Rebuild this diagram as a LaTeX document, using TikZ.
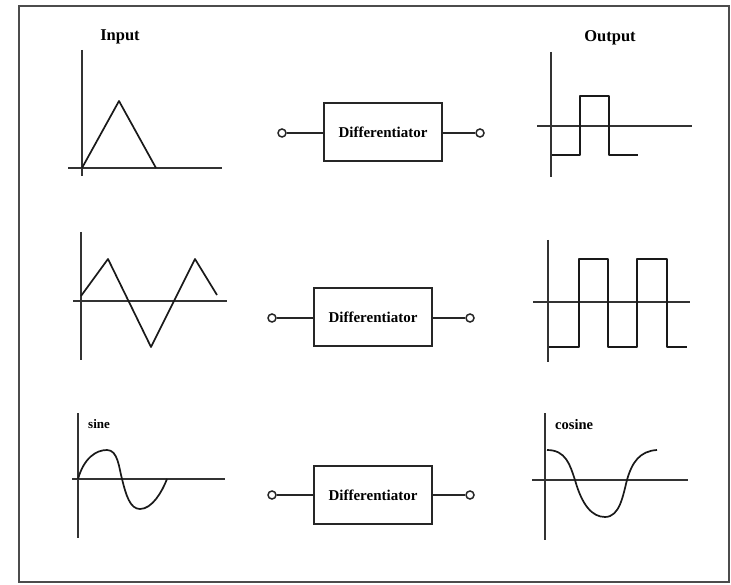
\documentclass[tikz,border=0pt]{standalone}
\usepackage{fontspec}
\setmainfont{Liberation Serif}
\begin{document}
\begin{tikzpicture}[x=1pt,y=-1pt,
  ink/.style={line width=1.5pt,draw=black!85},
  axis/.style={line width=1.3pt,draw=black!80},
  sig/.style={line width=1.7pt,draw=black!90,line join=round},
  blk/.style={draw=black!85,line width=1.4pt,minimum width=118pt,minimum height=58pt,inner sep=0pt,font=\fontsize{15}{15}\selectfont\bfseries},
  term/.style={circle,draw=black!85,line width=1.5pt,minimum size=8pt,inner sep=0pt,fill=white},
  lab/.style={font=\fontsize{16.5}{16.5}\selectfont\bfseries,inner sep=0pt},
  slab/.style={font=\fontsize{14.5}{14.5}\selectfont\bfseries,inner sep=0pt}]
\useasboundingbox (0,0) rectangle (731,585);
\draw[line width=1.8pt,draw=black!70] (19,6) rectangle (729,582);

% ---- Row 1 ----
\node[lab] (inlab) at (120,37) {Input};
\node[lab] (outlab) at (610,38) {Output};
\draw[axis] (82,50) -- (82,176);
\draw[axis] (68,168) -- (222,168);
\draw[sig] (82,168) -- (119,101) -- (156,168);

\node[blk] (b1) at (383,132) {Differentiator};
\node[term] (i1) at (282,133) {};
\node[term] (o1) at (480,133) {};
\draw[ink] (i1) -- (b1.west |- i1);
\draw[ink] (b1.east |- o1) -- (o1);

\draw[axis] (551,52) -- (551,177);
\draw[axis] (537,126) -- (692,126);
\draw[sig] (552,155) -- (580,155) -- (580,96) -- (609,96) -- (609,155) -- (638,155);

% ---- Row 2 ----
\draw[axis] (81,232) -- (81,360);
\draw[axis] (73,301) -- (227,301);
\draw[sig] (81,296) -- (108,259) -- (151,347) -- (195,259) -- (217,295);

\node[blk] (b2) at (373,317) {Differentiator};
\node[term] (i2) at (272,318) {};
\node[term] (o2) at (470,318) {};
\draw[ink] (i2) -- (b2.west |- i2);
\draw[ink] (b2.east |- o2) -- (o2);

\draw[axis] (548,240) -- (548,362);
\draw[axis] (533,302) -- (690,302);
\draw[sig] (549,347) -- (579,347) -- (579,259) -- (608,259) -- (608,347) -- (637,347) -- (637,259) -- (667,259) -- (667,347) -- (687,347);

% ---- Row 3 ----
\node[slab,anchor=west,font=\fontsize{13}{13}\selectfont\bfseries] (sinelab) at (88,424) {sine};
\draw[axis] (78,413) -- (78,538);
\draw[axis] (72,479) -- (225,479);
\draw[sig] (78,479) .. controls (84,458) and (96,450) .. (107,450)
  .. controls (118,450) and (119,468) .. (122,479)
  .. controls (126,495) and (130,509) .. (140,509)
  .. controls (152,509) and (162,492) .. (167,479);

\node[blk] (b3) at (373,495) {Differentiator};
\node[term] (i3) at (272,495) {};
\node[term] (o3) at (470,495) {};
\draw[ink] (i3) -- (b3.west |- i3);
\draw[ink] (b3.east |- o3) -- (o3);

\node[slab,anchor=west] (coslab) at (555,425) {cosine};
\draw[axis] (545,413) -- (545,540);
\draw[axis] (532,480) -- (688,480);
\draw[sig] (547,450) .. controls (566,450) and (570,465) .. (575,480)
  .. controls (582,505) and (592,517) .. (605,517)
  .. controls (620,517) and (623,495) .. (627,480)
  .. controls (632,462) and (640,451) .. (657,450);
\end{tikzpicture}
\end{document}
